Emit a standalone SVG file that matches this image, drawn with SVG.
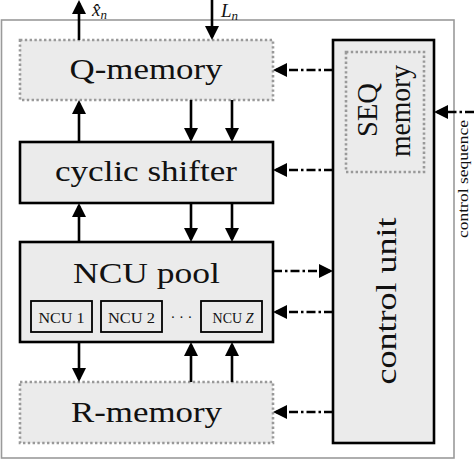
<svg xmlns="http://www.w3.org/2000/svg" width="474" height="463" viewBox="0 0 474 463">
<defs>
<marker id="ah" viewBox="0 0 14 14" refX="11" refY="7" markerWidth="14" markerHeight="14" markerUnits="userSpaceOnUse" orient="auto">
<path d="M0,0 L14,7 L0,14 z" fill="#000"/>
</marker>
</defs>
<style>
.outer{fill:none;stroke:#9a9a9a;stroke-width:1.6}
.mem{fill:#ebebeb;stroke:#999;stroke-width:2.6;stroke-dasharray:2.4 2.4}
.blk{fill:#ebebeb;stroke:#000;stroke-width:2.6}
.sub{fill:#ebebeb;stroke:#000;stroke-width:1.8}
.lbl{font-family:"Liberation Serif","Times New Roman",serif;font-size:30px;fill:#111;text-anchor:middle}
.small{font-family:"Liberation Serif","Times New Roman",serif;font-size:14px;fill:#111;text-anchor:middle}
.sol{stroke:#000;stroke-width:2.6;fill:none;marker-end:url(#ah)}
.dd{stroke:#000;stroke-width:2.6;fill:none;stroke-dasharray:9 3 2.5 3;marker-end:url(#ah)}
</style>
<rect class="outer" x="1.5" y="20" width="452.5" height="438"/>
<g id="q-memory">
<rect class="mem" x="20" y="40" width="253" height="60"/>
<text class="lbl" x="146" y="79" textLength="153" lengthAdjust="spacingAndGlyphs">Q-memory</text>
</g>
<g id="cyclic-shifter">
<rect class="blk" x="20" y="142" width="253" height="61"/>
<text class="lbl" x="146" y="181" textLength="182" lengthAdjust="spacingAndGlyphs">cyclic shifter</text>
</g>
<g id="ncu-pool">
<rect class="blk" x="20" y="242" width="253" height="100"/>
<text class="lbl" x="146.5" y="283" textLength="147" lengthAdjust="spacingAndGlyphs">NCU pool</text>
<rect class="sub" x="31" y="301" width="61" height="31"/>
<text class="small" x="61.5" y="323" textLength="46" lengthAdjust="spacingAndGlyphs">NCU 1</text>
<rect class="sub" x="101" y="301" width="61" height="31"/>
<text class="small" x="131.5" y="323" textLength="47" lengthAdjust="spacingAndGlyphs">NCU 2</text>
<text class="small" x="181.5" y="322" textLength="22" lengthAdjust="spacingAndGlyphs">· · ·</text>
<rect class="sub" x="201" y="301" width="61" height="31"/>
<text class="small" x="233" y="323">NCU <tspan font-style="italic">Z</tspan></text>
</g>
<g id="r-memory">
<rect class="mem" x="20" y="382" width="253" height="61"/>
<text class="lbl" x="146.5" y="422" textLength="151" lengthAdjust="spacingAndGlyphs">R-memory</text>
</g>
<g id="control-unit">
<rect class="blk" x="333" y="40" width="101" height="403"/>
<text class="lbl" transform="translate(396,301) rotate(-90)" x="0" y="0" textLength="167" lengthAdjust="spacingAndGlyphs">control unit</text>
</g>
<g id="seq-memory">
<rect class="mem" x="346" y="52" width="78" height="120"/>
<text class="lbl" transform="translate(377,110) rotate(-90)" x="0" y="0" textLength="54" lengthAdjust="spacingAndGlyphs">SEQ</text>
<text class="lbl" transform="translate(410,111) rotate(-90)" x="0" y="0" textLength="92" lengthAdjust="spacingAndGlyphs">memory</text>
</g>
<g id="connectors">
<line class="sol" x1="79" y1="40" x2="79" y2="3"/>
<line class="sol" x1="212" y1="0" x2="212" y2="37"/>
<line class="sol" x1="79" y1="142" x2="79" y2="103"/>
<line class="sol" x1="191" y1="100" x2="191" y2="139"/>
<line class="sol" x1="232" y1="100" x2="232" y2="139"/>
<line class="sol" x1="79" y1="242" x2="79" y2="206"/>
<line class="sol" x1="191" y1="203" x2="191" y2="239"/>
<line class="sol" x1="232" y1="203" x2="232" y2="239"/>
<line class="sol" x1="79" y1="342" x2="79" y2="379"/>
<line class="sol" x1="191" y1="382" x2="191" y2="345"/>
<line class="sol" x1="232" y1="382" x2="232" y2="345"/>
<line class="dd" x1="333" y1="70" x2="276" y2="70"/>
<line class="dd" x1="333" y1="170" x2="276" y2="170"/>
<line class="dd" x1="273" y1="271" x2="330" y2="271"/>
<line class="dd" x1="333" y1="312" x2="276" y2="312"/>
<line class="dd" x1="333" y1="412" x2="276" y2="412"/>
<line class="dd" x1="474" y1="112" x2="437" y2="112"/>
</g>
<g id="labels">
<text font-family="'Liberation Serif','Times New Roman',serif" font-size="19" font-style="italic" fill="#111" x="92" y="16">x̂<tspan font-size="13" dy="3">n</tspan></text>
<text font-family="'Liberation Serif','Times New Roman',serif" font-size="19" font-style="italic" fill="#111" x="221" y="17">L<tspan font-size="13" dy="3">n</tspan></text>
<text class="small" transform="translate(468,179) rotate(-90)" x="0" y="0" textLength="118" lengthAdjust="spacingAndGlyphs">control sequence</text>
</g>
</svg>
